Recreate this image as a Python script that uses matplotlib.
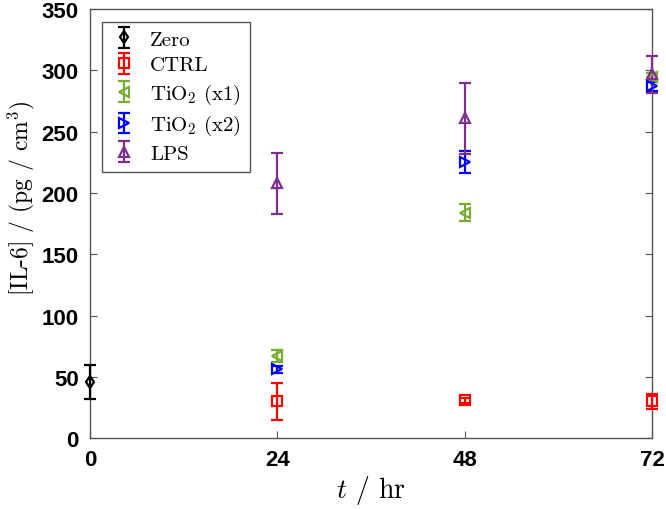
import matplotlib
matplotlib.use("Agg")
import matplotlib.pyplot as plt

plt.rcParams['mathtext.fontset'] = 'cm'

# time points (hr)
t_zero = [0]
t_later = [24, 48, 72]

zero_mean = [46]
zero_err = [14]
ctrl_mean = [30, 31, 30]
ctrl_err = [15, 2, 6]
tio2_x1_mean = [67, 184, 295]
tio2_x1_err = [5, 7, 3]
tio2_x2_mean = [56, 225, 287]
tio2_x2_err = [3, 9, 4]
lps_mean = [208, 261, 297]
lps_err = [25, 29, 15]

labels = ['Zero', 'CTRL', r'TiO$_2$ (x1)', r'TiO$_2$ (x2)', 'LPS']
colors = ['black', '#ff0000', '#77ac30', '#0000ff', '#7e2f8e']
markers = ['d', 's', '<', '>', '^']

fig = plt.figure(figsize=(6.66, 5.1), dpi=100)
ax = fig.add_axes([0.135, 0.139, 0.844, 0.841])

series = [
    (t_zero, zero_mean, zero_err),
    (t_later, ctrl_mean, ctrl_err),
    (t_later, tio2_x1_mean, tio2_x1_err),
    (t_later, tio2_x2_mean, tio2_x2_err),
    (t_later, lps_mean, lps_err),
]
for (x, y, e), lab, c, m in zip(series, labels, colors, markers):
    ax.errorbar(x, y, yerr=e, fmt=m, color=c, mfc='none', mec=c,
                ms=6.5, mew=1.6, elinewidth=1.6, capsize=4, capthick=1.6,
                label=lab, clip_on=False, zorder=3)

ax.set_xlim(0, 72)
ax.set_ylim(0, 350)
ax.set_xticks([0, 24, 48, 72])
ax.set_yticks(range(0, 351, 50))
ax.tick_params(direction='in', top=False, right=True, length=5,
               color='#555555', labelsize=16, pad=8)
for lbl in ax.get_xticklabels() + ax.get_yticklabels():
    lbl.set_fontweight('bold')
    lbl.set_fontfamily('Liberation Sans')
for sp in ax.spines.values():
    sp.set_color('#555555')
    sp.set_linewidth(1.0)

ax.set_xlabel(r'$t$ / hr', fontsize=20, fontfamily='cmr10', labelpad=2)
ax.set_ylabel(r'[IL-6] / (pg / cm$^3$)', fontsize=17, fontfamily='cmr10', labelpad=2)
ax.yaxis.set_label_coords(-0.095, 0.56)

leg = ax.legend(loc='upper left', prop={'family': 'cmr10', 'size': 15},
                fancybox=False, edgecolor='#555555', framealpha=1,
                labelspacing=0.35, handletextpad=0.6, borderaxespad=0.6,
                handlelength=1.3)
leg.get_frame().set_linewidth(1.0)

fig.savefig('out.png', dpi=100)
